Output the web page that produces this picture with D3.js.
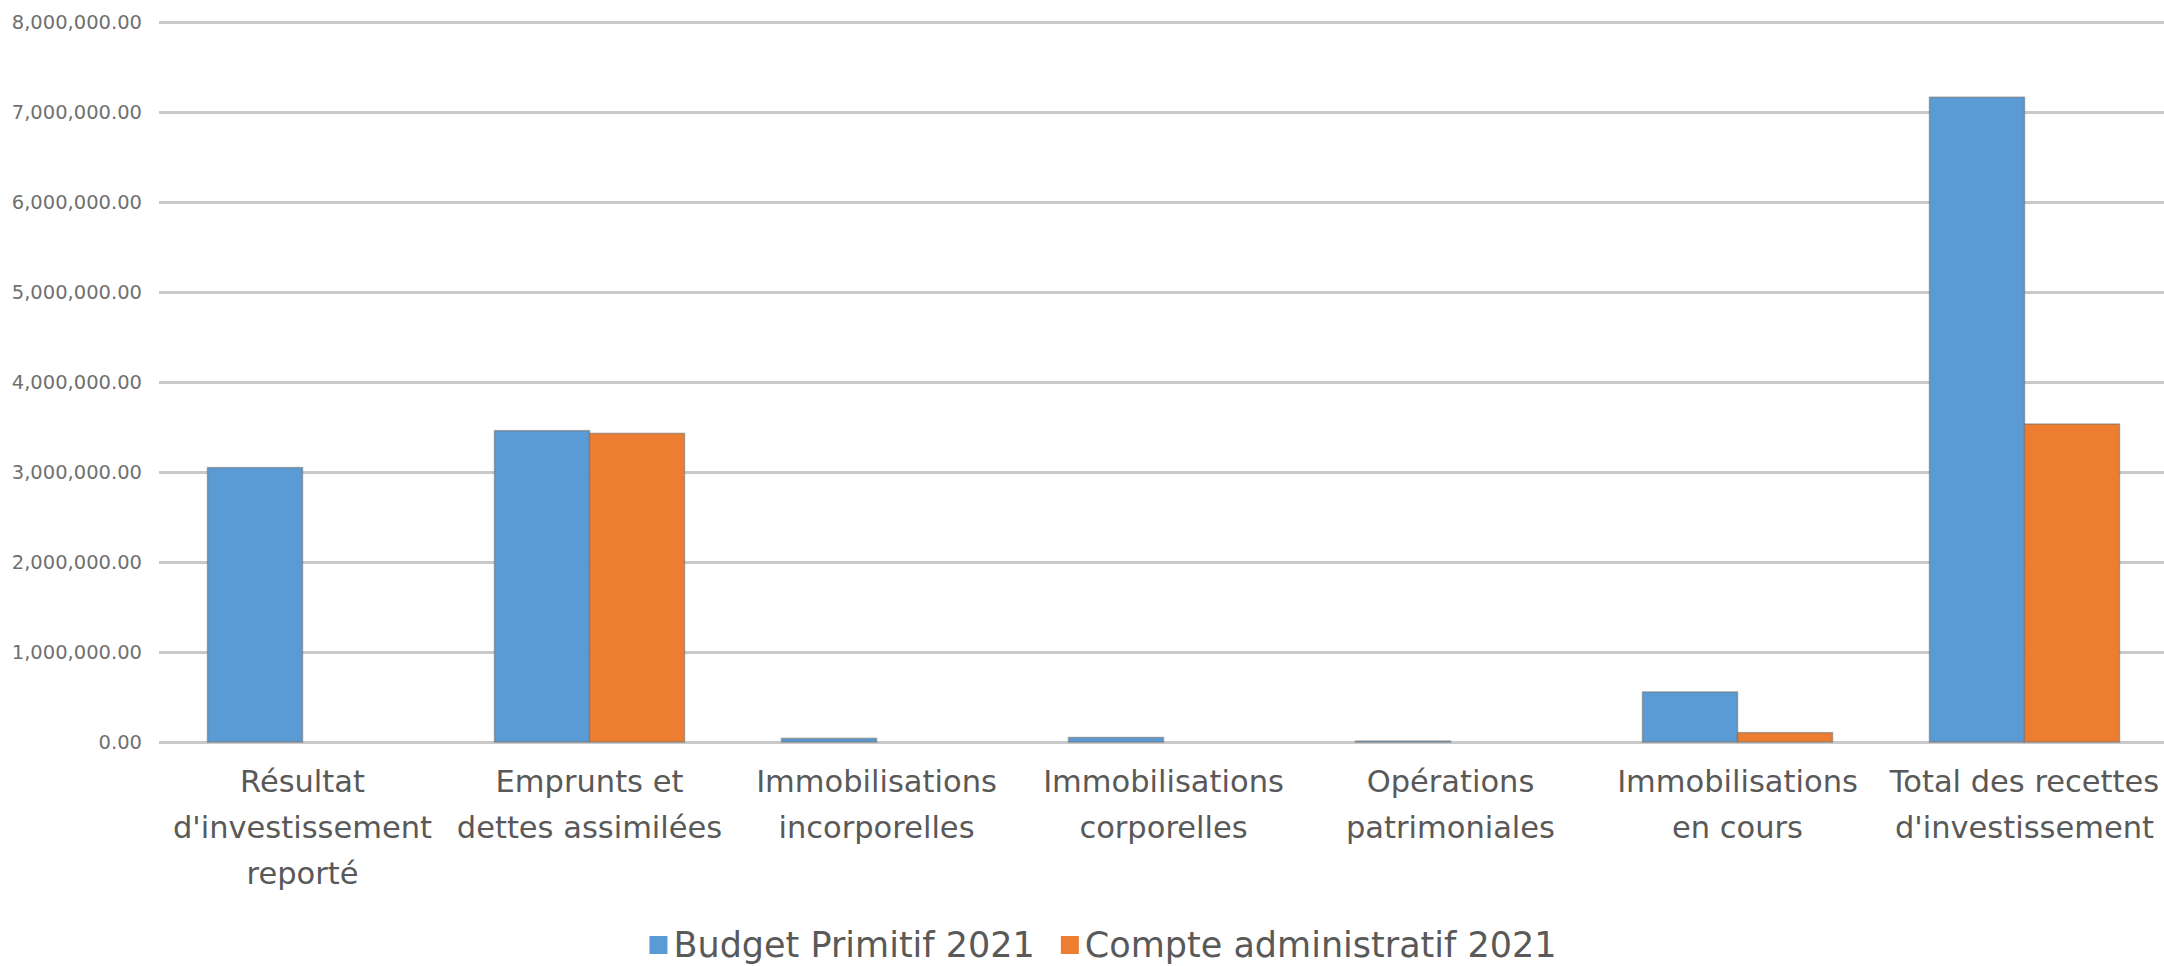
<!DOCTYPE html>
<html>
<head>
<meta charset="utf-8">
<script src="https://cdn.jsdelivr.net/npm/d3@7"></script>
<style>
  html, body { margin: 0; padding: 0; background: #fff; }
  svg { display: block; }
  text { font-family: "DejaVu Sans", sans-serif; }
</style>
</head>
<body>
<svg id="chart" width="2164" height="966"></svg>
<script>
// ---- data ----
const categories = [
  ["Résultat", "d'investissement", "reporté"],
  ["Emprunts et", "dettes assimilées"],
  ["Immobilisations", "incorporelles"],
  ["Immobilisations", "corporelles"],
  ["Opérations", "patrimoniales"],
  ["Immobilisations", "en cours"],
  ["Total des recettes", "d'investissement"]
];
const seriesNames = ["Budget Primitif 2021", "Compte administratif 2021"];
const budgetPrimitif = [3049000, 3459000, 40000, 50000, 10000, 556000, 7164000];
const compteAdministratif = [0, 3429000, 0, 0, 0, 104000, 3533000];
const yTicks = [0, 1000000, 2000000, 3000000, 4000000, 5000000, 6000000, 7000000, 8000000];
const colors = ["#5B9BD5", "#ED7D31"];

// ---- layout ----
const svg = d3.select("#chart");
const plotLeft = 159, plotRight = 2168, plotTop = 22, plotBottom = 742;
const catKeys = categories.map((c, i) => i);

const x = d3.scaleBand().domain(catKeys).range([plotLeft, plotRight])
  .paddingInner(0.338).paddingOuter(0.169);
const xs = d3.scaleBand().domain([0, 1]).range([0, x.bandwidth()]);
const y = d3.scaleLinear().domain([0, 8000000]).range([plotBottom, plotTop]);

// gridlines
const grid = svg.append("g").attr("transform", `translate(${plotLeft},0)`)
  .call(d3.axisLeft(y).tickValues(yTicks).tickSize(-(2164 - plotLeft)).tickFormat(""));
grid.select(".domain").remove();
grid.selectAll(".tick line").attr("stroke", "#c9c9c9").attr("stroke-width", 3);

// y labels
const yAxis = svg.append("g").attr("transform", `translate(${plotLeft},0)`)
  .call(d3.axisLeft(y).tickValues(yTicks).tickSize(0).tickPadding(17).tickFormat(d3.format(",.2f")));
yAxis.select(".domain").remove();
yAxis.selectAll(".tick text")
  .attr("fill", "#707070")
  .style("font-size", "19.5px")
  .style("font-family", "'DejaVu Sans', sans-serif");

// bars
const data = [budgetPrimitif, compteAdministratif];
const groups = svg.append("g").selectAll("g").data(data).join("g")
  .attr("fill", (d, i) => colors[i]);
groups.each(function(series, si) {
  d3.select(this).selectAll("rect").data(series).join("rect")
    .attr("x", (d, i) => x(i) + xs(si))
    .attr("width", xs.bandwidth())
    .attr("y", d => y(d))
    .attr("height", d => plotBottom - y(d))
    .attr("stroke", d => d > 0 ? "rgba(110,110,110,0.55)" : "none")
    .attr("stroke-width", 1.5);
});

// x labels
const xAxis = svg.append("g").attr("transform", `translate(0,${plotBottom})`)
  .call(d3.axisBottom(x).tickSize(0).tickFormat(""));
xAxis.select(".domain").remove();
xAxis.selectAll(".tick text").each(function(d) {
  const t = d3.select(this)
    .attr("fill", "#595959")
    .attr("y", 0)
    .attr("dy", null)
    .style("font-size", "30.5px")
    .style("font-family", "'DejaVu Sans', sans-serif");
  categories[d].forEach((line, k) => {
    t.append("tspan").attr("x", 0).attr("y", 50 + k * 46).text(line);
  });
});

// legend
const legend = svg.append("g");
const legendItems = legend.selectAll("g").data(seriesNames).join("g");
legendItems.append("rect").attr("width", 18).attr("height", 18).attr("y", -9)
  .attr("fill", (d, i) => colors[i]);
legendItems.append("text").attr("x", 24).attr("y", 12)
  .attr("fill", "#595959")
  .style("font-size", "35px")
  .text(d => d);
let cx = 0;
const positions = [];
legendItems.each(function(d, i) {
  const w = 24 + d3.select(this).select("text").node().getComputedTextLength();
  positions.push(cx);
  cx += w + 26;
});
const totalW = cx - 26;
const startX = 1103 - totalW / 2;
legendItems.attr("transform", (d, i) => `translate(${startX + positions[i]},945)`);
</script>
</body>
</html>
